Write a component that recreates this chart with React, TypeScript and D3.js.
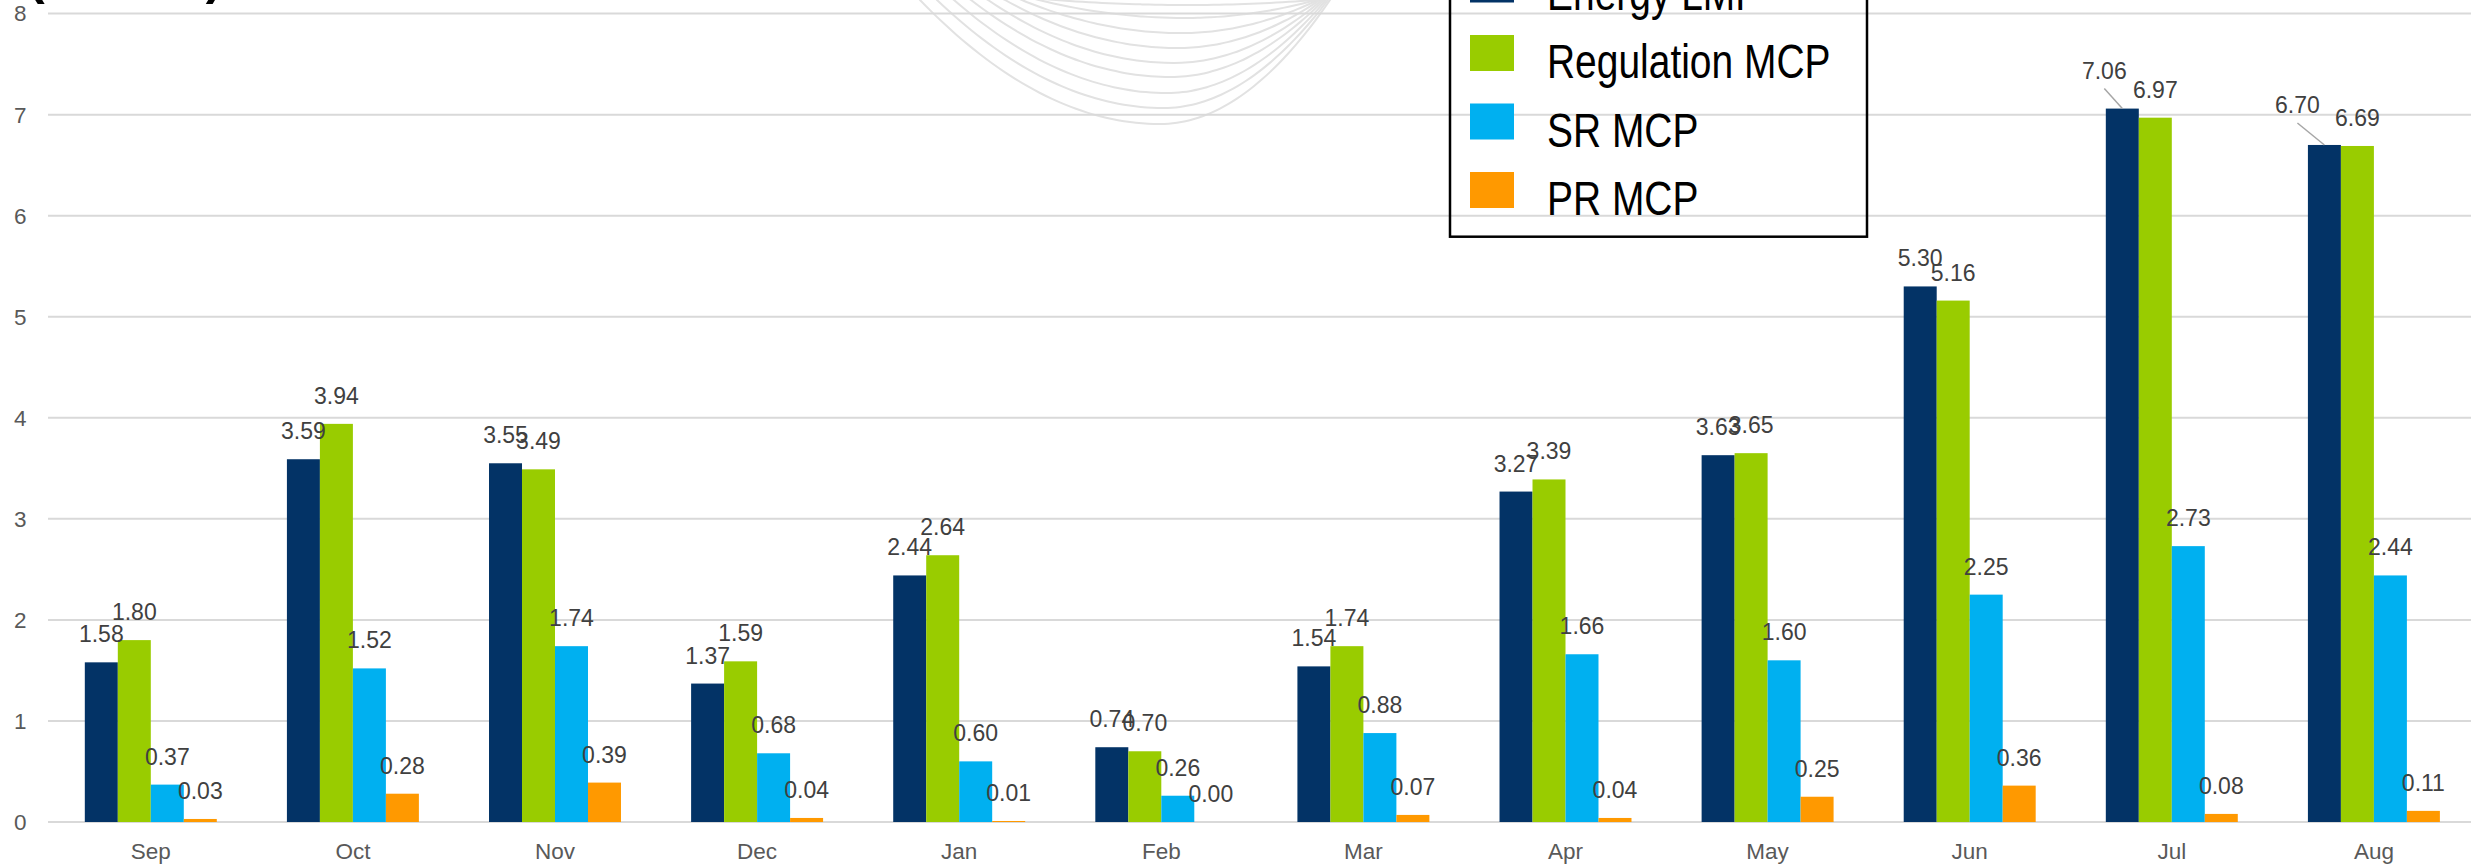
import React from "react";
import * as d3 from "d3";

const categories = ["Sep", "Oct", "Nov", "Dec", "Jan", "Feb", "Mar", "Apr", "May", "Jun", "Jul", "Aug"];
const seriesNames = ["Energy LMP", "Regulation MCP", "SR MCP", "PR MCP"];
const energyLMP = [1.58, 3.59, 3.55, 1.37, 2.44, 0.74, 1.54, 3.27, 3.63, 5.3, 7.06, 6.7];
const regulationMCP = [1.8, 3.94, 3.49, 1.59, 2.64, 0.7, 1.74, 3.39, 3.65, 5.16, 6.97, 6.69];
const srMCP = [0.37, 1.52, 1.74, 0.68, 0.6, 0.26, 0.88, 1.66, 1.6, 2.25, 2.73, 2.44];
const prMCP = [0.03, 0.28, 0.39, 0.04, 0.01, 0.0, 0.07, 0.04, 0.25, 0.36, 0.08, 0.11];
const yTicks = [0, 1, 2, 3, 4, 5, 6, 7, 8];
const titleText = "($/MWh)";

const seriesValues = [energyLMP, regulationMCP, srMCP, prMCP];
const colors = ["#033366", "#99CC00", "#00B0F0", "#FF9900"];

// manually moved labels (with leader lines) in the original chart: [dx, dy]
const labelNudges: Record<string, [number, number]> = {
  "Energy LMP|Jul": [-18, -10],
  "Energy LMP|Aug": [-27, -12],
};

// decorative watermark arcs: bottom depth of each nested curve
const arcDepths = [124, 108, 93, 77, 63, 48, 33, 18, 5];

const W = 2471;
const H = 867;
const FONT = "'Liberation Sans', Arial, sans-serif";

export default function App() {
  const x0 = d3.scaleBand<string>().domain(categories).range([49.75, 2474.95]).paddingInner(0).paddingOuter(0);
  const groupW = x0.bandwidth() * 0.653;
  const x1 = d3.scaleBand<string>().domain(seriesNames).range([0, groupW]);
  const y = d3.scaleLinear().domain([0, 8]).range([822, 13.6]);
  const fmt = d3.format(".2f");

  const arcLine = d3.line<[number, number]>().curve(d3.curveCatmullRom);
  const arcs = arcDepths.map((yb, i) => {
    const xL = 920 + 17 * i;
    const xb = 1160 + 3.5 * i;
    const xR = 1330 - 2 * i;
    const pts: [number, number][] = [];
    for (let t = -1.3; t <= 1.3001; t += 0.05) {
      const half = t < 0 ? xb - xL : xR - xb;
      pts.push([xb + t * half, yb * (1 - t * t)]);
    }
    return arcLine(pts) as string;
  });

  const legendX = 1450;
  const legendRight = 1867;
  const legendBottom = 236.7;

  return (
    <svg
      width={W}
      height={H}
      style={{ position: "absolute", left: 0, top: 0, background: "#fff" }}
      fontFamily={FONT}
    >
      <rect x={0} y={0} width={W} height={H} fill="#fff" />
      {/* watermark arcs */}
      <g fill="none" stroke="#e2e2e2" strokeWidth={2}>
        {arcs.map((d, i) => (
          <path key={i} d={d} />
        ))}
      </g>
      {/* title (cut off at top) */}
      <text x={28} y={-6.5} fontSize={50} fontWeight="bold" fill="#000">
        {titleText}
      </text>
      {/* gridlines */}
      <g>
        {yTicks.map((t) => (
          <line key={t} x1={48} x2={W} y1={y(t)} y2={y(t)} stroke="#d9d9d9" strokeWidth={2} />
        ))}
      </g>
      {/* y labels */}
      <g fill="#595959" fontSize={22.5} textAnchor="end">
        {yTicks.map((t) => (
          <text key={t} x={26.5} y={y(t)} dy="0.35em">
            {t}
          </text>
        ))}
      </g>
      {/* bars */}
      {seriesNames.map((s, si) => (
        <g key={s} fill={colors[si]}>
          {categories.map((c, ci) => {
            const v = seriesValues[si][ci];
            const bx = (x0(c) as number) + (x0.bandwidth() - groupW) / 2 + (x1(s) as number);
            return <rect key={c} x={bx} y={y(v)} width={x1.bandwidth()} height={y(0) - y(v)} />;
          })}
        </g>
      ))}
      {/* data labels */}
      <g fill="#404040" fontSize={23} textAnchor="middle">
        {seriesNames.map((s, si) =>
          categories.map((c, ci) => {
            const v = seriesValues[si][ci];
            const cx = (x0(c) as number) + (x0.bandwidth() - groupW) / 2 + (x1(s) as number) + x1.bandwidth() / 2;
            const top = y(v);
            const nudge = labelNudges[`${s}|${c}`];
            if (nudge) {
              const lx = cx + nudge[0];
              const ly = top - 20 + nudge[1];
              return (
                <g key={s + c}>
                  <line x1={lx} y1={ly + 10} x2={cx} y2={top} stroke="#a6a6a6" strokeWidth={1.5} />
                  <text x={lx} y={ly}>
                    {fmt(v)}
                  </text>
                </g>
              );
            }
            return (
              <text key={s + c} x={cx} y={top - 20}>
                {fmt(v)}
              </text>
            );
          })
        )}
      </g>
      {/* x labels */}
      <g fill="#595959" fontSize={22.5} textAnchor="middle">
        {categories.map((c) => (
          <text key={c} x={(x0(c) as number) + x0.bandwidth() / 2} y={859}>
            {c}
          </text>
        ))}
      </g>
      {/* legend */}
      <g>
        <rect
          x={legendX}
          y={-60}
          width={legendRight - legendX}
          height={legendBottom + 60}
          fill="#fff"
          fillOpacity={0}
          stroke="#000"
          strokeWidth={2.5}
        />
        {seriesNames.map((s, i) => {
          const base = 9.5 + 68.5 * i;
          return (
            <g key={s}>
              <rect x={1470} y={base - 43} width={44} height={36} fill={colors[i]} />
              <text transform={`translate(1547,${base}) scale(0.82,1)`} fontSize={47.5} fill="#000">
                {s}
              </text>
            </g>
          );
        })}
      </g>
    </svg>
  );
}
